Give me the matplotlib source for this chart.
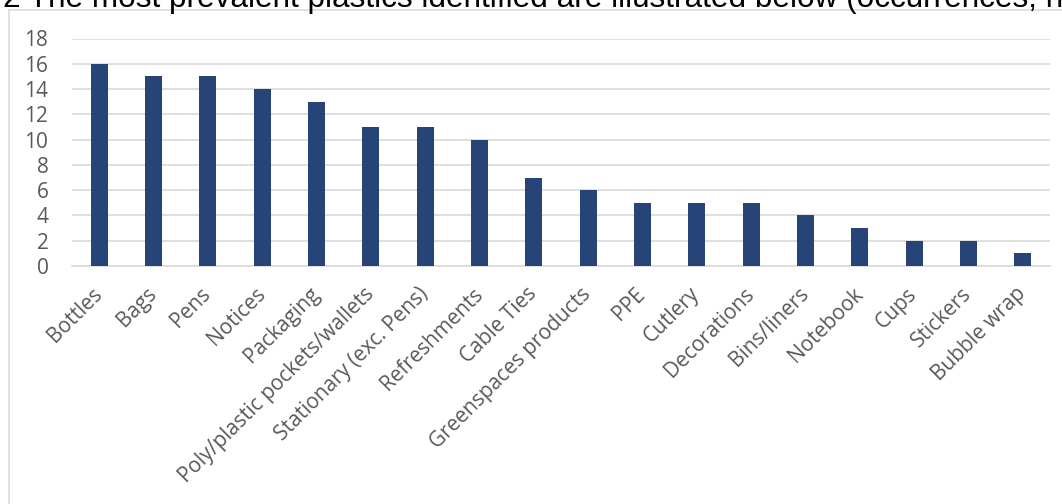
import matplotlib
matplotlib.use("Agg")
import matplotlib.pyplot as plt
from matplotlib.lines import Line2D

categories = [
    "Bottles", "Bags", "Pens", "Notices", "Packaging",
    "Poly/plastic pockets/wallets", "Stationary (exc. Pens)", "Refreshments",
    "Cable Ties", "Greenspaces products", "PPE", "Cutlery", "Decorations",
    "Bins/liners", "Notebook", "Cups", "Stickers", "Bubble wrap",
]
occurrences = [16, 15, 15, 14, 13, 11, 11, 10, 7, 6, 5, 5, 5, 4, 3, 2, 2, 1]
y_ticks = [0, 2, 4, 6, 8, 10, 12, 14, 16, 18]

W, H, DPI = 1062, 504, 100
fig = plt.figure(figsize=(W / DPI, H / DPI), dpi=DPI)
fig.patch.set_facecolor("white")

def fx(px):
    return px / W

def fy(py):
    return 1 - py / H

# caption running above the chart frame (clipped at the top edge)
fig.text(fx(3), fy(7.3),
         "2 The most prevalent plastics identified are illustrated below (occurrences, n)",
         fontsize=22.7, family="Liberation Sans", color="black",
         ha="left", va="baseline")

# chart frame (top and left edges)
grey = "#D9D9D9"
fig.add_artist(Line2D([fx(8.5), fx(1070)], [fy(9.5), fy(9.5)], color=grey, lw=1.1))
fig.add_artist(Line2D([fx(8.5), fx(8.5)], [fy(9.5), fy(520)], color=grey, lw=1.1))

ax_left, ax_right = 72, 1050
ax_top, ax_bottom = 38.5, 266
ax = fig.add_axes([fx(ax_left), fy(ax_bottom), (ax_right - ax_left) / W,
                   (ax_bottom - ax_top) / H])

x = range(len(categories))
ax.bar(x, occurrences, width=0.31, color="#264478", zorder=3)

ax.set_xlim(-0.5, len(categories) - 0.5)
ax.set_ylim(0, 18)
ax.set_yticks(y_ticks)
ax.yaxis.grid(True, color=grey, lw=1.2, zorder=0)
ax.set_axisbelow(True)
for s in ["top", "right", "left"]:
    ax.spines[s].set_visible(False)
ax.spines["bottom"].set_color(grey)
ax.spines["bottom"].set_linewidth(1.2)

font = "Open Sans"
txt = "#595959"
ax.tick_params(axis="y", length=0, pad=17, labelsize=15, labelcolor=txt)
ax.tick_params(axis="x", length=0, pad=18, labelsize=15, labelcolor=txt)
for lab in ax.get_yticklabels():
    lab.set_family(font)
ax.set_xticks(list(x))
ax.set_xticklabels(categories, rotation=45, ha="right", va="center",
                   rotation_mode="anchor", family=font)

fig.savefig("out.png", dpi=DPI, facecolor="white")
